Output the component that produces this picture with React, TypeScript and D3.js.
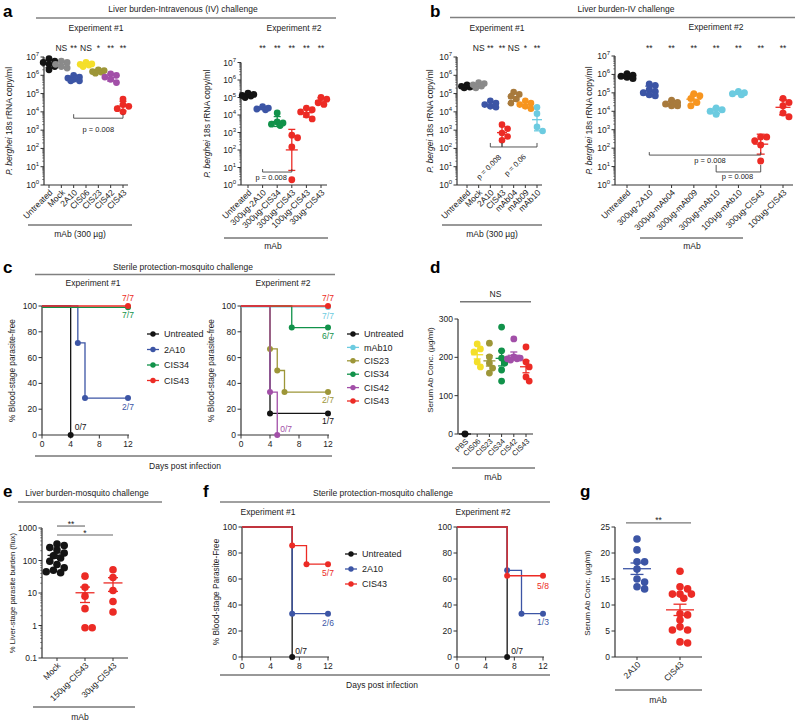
import React from "react";
import * as d3 from "d3";

const FONT = "'Liberation Sans', Arial, Helvetica, sans-serif";
const AX = "#333";

const BLACK = "#141414";
const GRAY = "#8a8a8a";
const BLUE = "#3c55a5";
const YELLOW = "#f4df2a";
const OLIVE = "#9d9638";
const GREEN = "#11924a";
const PURPLE = "#a24fa8";
const RED = "#ec2b25";
const BROWN = "#a87a3c";
const ORANGE = "#f7951f";
const LIGHTBLUE = "#6ccbe0";

// ---------- a: liver burden, IV challenge ----------
const aExp1Groups = ["Untreated", "Mock", "2A10", "CIS06", "CIS23", "CIS42", "CIS43"];
const aExp1Values = [
  [8e6, 6e6, 5e6, 4e6, 3e6, 2e6],
  [6e6, 5e6, 4e6, 3e6, 2.5e6],
  [1e6, 8e5, 7e5, 6e5, 5e5, 5e5],
  [5e6, 4.2e6, 3.6e6, 3e6, 4e6],
  [2e6, 1.8e6, 1.5e6, 1.3e6, 1.6e6],
  [1.2e6, 1e6, 8e5, 6e5, 4e5],
  [5e4, 2.5e4, 2e4, 1.5e4, 1e4],
];
const aExp1Sig = ["", "NS", "**", "NS", "*", "**", "**"];

const aExp2Groups = ["Untreated", "300µg-2A10", "300µg-CIS34", "300µg-CIS43", "100µg-CIS43", "30µg-CIS43"];
const aExp2Values = [
  [1.8e5, 1.5e5, 1.3e5, 1.2e5, 1e5],
  [3e4, 2.5e4, 2.2e4, 2e4],
  [1.3e4, 4e3, 3.5e3, 3e3, 2.5e3],
  [700, 500, 150, 2],
  [2.5e4, 2e4, 1.5e4, 1e4, 6e3],
  [1e5, 8e4, 5e4, 4e4],
];
const aExp2Sig = ["", "**", "**", "**", "**", "**"];

// ---------- b: liver burden, IV challenge ----------
const bExp1Groups = ["Untreated", "Mock", "2A10", "CIS43", "mAb04", "mAb09", "mAb10"];
const bExp1Values = [
  [3e5, 2.5e5, 2.2e5, 2e5, 2.5e5],
  [4e5, 3.5e5, 3e5, 2.5e5, 2e5],
  [4e4, 3e4, 2.5e4, 2e4, 1.8e4],
  [2e3, 1.2e3, 700, 450, 280],
  [1.2e5, 9e4, 7e4, 5e4, 3e4],
  [4e4, 3e4, 2.5e4, 2e4, 1.5e4],
  [1.8e4, 8e3, 1.5e3, 900],
];
const bExp1Sig = ["", "NS", "**", "**", "NS", "*", "**"];

const bExp2Groups = ["Untreated", "300µg-2A10", "300µg-mAb04", "300µg-mAb09", "300µg-mAb10", "100µg-mAb10", "300µg-CIS43", "100µg-CIS43"];
const bExp2Values = [
  [1.1e6, 9e5, 8e5, 7e5, 6e5],
  [3e5, 2.5e5, 1.5e5, 1.2e5, 1e5, 8e4, 7e4],
  [4e4, 3e4, 2.5e4, 2e4, 2e4],
  [9e4, 7e4, 5e4, 3e4, 2e4],
  [1.5e4, 1.2e4, 1e4, 7e3],
  [1.2e5, 1e5, 9e4, 8e4],
  [400, 400, 250, 150, 20],
  [5e4, 3e4, 2e4, 8e3, 5e3],
];
const bExp2Sig = ["", "**", "**", "**", "**", "**", "**", "**"];

const logTicks = [1, 10, 100, 1e3, 1e4, 1e5, 1e6, 1e7];

// ---------- c: sterile protection, mosquito challenge ----------
const cExp1Names = ["Untreated", "2A10", "CIS34", "CIS43"];
const cExp1Days = [[0, 4], [0, 5, 6, 12], [0, 12], [0, 12]];
const cExp1Free = [[100, 0], [100, 71.4, 28.6, 28.6], [99, 99], [100, 100]];
const cExp1Counts = ["0/7", "2/7", "7/7", "7/7"];

const cExp2Names = ["Untreated", "mAb10", "CIS23", "CIS34", "CIS42", "CIS43"];
const cExp2Days = [[0, 4, 12], [0, 12], [0, 4, 5, 6, 12], [0, 7, 12], [0, 4, 5], [0, 12]];
const cExp2Free = [[100, 16.7, 16.7], [99.3, 99.3], [100, 66.7, 50, 33.3, 33.3], [100, 83.3, 83.3], [100, 33.3, 0], [100, 100]];
const cExp2Counts = ["1/7", "7/7", "2/7", "6/7", "0/7", "7/7"];

const kmYTicks = [0, 20, 40, 60, 80, 100];
const kmXTicks = [0, 4, 8, 12];

// ---------- d: serum antibody ----------
const dGroups = ["PBS", "CIS06", "CIS23", "CIS34", "CIS42", "CIS43"];
const dValues = [
  [0],
  [235, 222, 214, 188, 175],
  [237, 201, 185, 172, 159],
  [279, 217, 198, 185, 167, 138],
  [248, 201, 198, 196, 196, 193],
  [227, 188, 175, 149, 138],
];
const dTicks = [0, 100, 200, 300];

// ---------- e: liver burden, mosquito challenge ----------
const eGroups = ["Mock", "150µg-CIS43", "30µg-CIS43"];
const eValues = [
  [320, 290, 250, 210, 170, 140, 120, 95, 75, 60, 50, 45, 42],
  [33, 15, 8, 3.3, 0.85, 0.85],
  [52, 30, 12, 5.5, 2.6],
];
const eTicks = [0.1, 1, 10, 100, 1000];

// ---------- f: sterile protection, mosquito challenge ----------
const fNames = ["Untreated", "2A10", "CIS43"];
const fExp1Days = [[0, 7], [0, 7, 12], [0, 7, 9, 12]];
const fExp1Free = [[100, 0], [100, 33.3, 33.3], [100, 85.7, 71.4, 71.4]];
const fExp1Counts = ["0/7", "2/6", "5/7"];
const fExp2Days = [[0, 7], [0, 7, 9, 12], [0, 7, 12]];
const fExp2Free = [[100, 0], [100, 66.7, 33.3, 33.3], [100, 62.5, 62.5]];
const fExp2Counts = ["0/7", "1/3", "5/8"];

// ---------- g: serum antibody ----------
const gGroups = ["2A10", "CIS43"];
const gValues = [
  [22.7, 20.6, 18.3, 18.3, 16.9, 15.0, 14.4, 13.1, 13.5],
  [16.5, 13.1, 13.5, 12.1, 12.1, 12.1, 11.3, 8.3, 8.1, 7.1, 5.2, 5.2, 5.8, 2.7, 2.9],
];
const gTicks = [0, 5, 10, 15, 20, 25];

// ------------------------------------------------------------

// simple beeswarm: offsets limited to maxK steps either side
function swarm(ys: number[], r: number, step: number, maxK: number) {
  const order = d3.range(ys.length).sort((a, b) => ys[a] - ys[b]);
  const placed: { x: number; y: number }[] = [];
  const out = ys.map(() => 0);
  order.forEach((i) => {
    let best = 0;
    let bestD = -1;
    for (let k = 0; k <= maxK * 2; k++) {
      const off = k === 0 ? 0 : (k % 2 ? 1 : -1) * Math.ceil(k / 2) * step;
      const dmin = placed.length ? d3.min(placed, (p) => Math.hypot(p.x - off, p.y - ys[i]))! : Infinity;
      if (dmin >= r * 1.55) { best = off; break; }
      if (dmin > bestD) { bestD = dmin; best = off; }
    }
    out[i] = best;
    placed.push({ x: best, y: ys[i] });
  });
  return out;
}

const sup = (v: number) => (
  <>
    10<tspan dy={-4} fontSize={6}>{Math.round(Math.log10(v))}</tspan>
  </>
);

type Bracket = {
  from: string; to: string; level: number; label: string;
  tick?: number; pad?: number; tdx?: number; tdy?: number; rot?: number; size?: number; color?: string; width?: number;
};

function DotPlot(p: any) {
  const { groups, values, colors } = p;
  const y: any = p.log
    ? d3.scaleLog().domain(p.domain).range(p.yRange)
    : d3.scaleLinear().domain(p.domain).range(p.yRange);
  const x = d3.scalePoint<string>().domain(groups).range(p.xRange);
  const base = p.yRange[0];
  const minor: number[] = [];
  if (p.log) {
    const lo = Math.round(Math.log10(p.domain[0]));
    const hi = Math.round(Math.log10(p.domain[1]));
    for (let e = lo; e < hi; e++) for (let m = 2; m < 10; m++) minor.push(m * Math.pow(10, e));
  }
  const brackets: Bracket[] = p.brackets || [];
  return (
    <g fontFamily={FONT}>
      <line x1={p.axisX} x2={p.axisX} y1={base} y2={p.yRange[1]} stroke={AX} strokeWidth={1.2} />
      <line x1={p.axisX} x2={p.xEnd} y1={base} y2={base} stroke={AX} strokeWidth={1.2} />
      {minor.map((t) => (
        <line key={"m" + t} x1={p.axisX - 1.8} x2={p.axisX} y1={y(t)} y2={y(t)} stroke={AX} strokeWidth={0.6} />
      ))}
      {p.ticks.map((t: number) => (
        <g key={t}>
          <line x1={p.axisX - 3.5} x2={p.axisX} y1={y(t)} y2={y(t)} stroke={AX} strokeWidth={1} />
          <text x={p.axisX - 5} y={y(t) + 3} textAnchor="end" fontSize={p.tickFont || 8.5} fill="#222">
            {p.log && p.sup ? sup(t) : String(t)}
          </text>
        </g>
      ))}
      {groups.map((g: string) => (
        <g key={"x" + g}>
          <line x1={x(g)} x2={x(g)} y1={base} y2={base + 3} stroke={AX} strokeWidth={1} />
          <text
            transform={`translate(${x(g)! + 2},${base + 6}) rotate(-45)`}
            textAnchor="end" dy="0.35em" fontSize={p.xFont || 8.5} fill="#222"
          >
            {g}
          </text>
        </g>
      ))}
      {groups.map((g: string, i: number) => {
        const vals: number[] = values[i];
        const ys = vals.map((v) => y(Math.max(v, p.domain[0])));
        const offs = swarm(ys, p.r, p.step ?? p.r * 0.85, p.maxK ?? 2);
        let m: number, lo: number, hi: number;
        if (p.err === "gsd") {
          // geometric mean +/- geometric SD
          const lv = vals.map((v) => Math.log10(v));
          const lm = d3.mean(lv)!;
          const ls = d3.deviation(lv) || 0;
          m = Math.pow(10, lm);
          lo = Math.pow(10, lm - ls);
          hi = Math.pow(10, lm + ls);
        } else {
          const mm = d3.mean(vals)!;
          const sd = d3.deviation(vals) || 0;
          const e = sd / Math.sqrt(vals.length);
          m = mm;
          lo = mm - e;
          hi = mm + e;
        }
        const cl = (v: number) => y(Math.max(v, p.domain[0]));
        const cx = x(g)!;
        return (
          <g key={"d" + g}>
            {vals.map((v, j) => (
              <circle key={j} cx={cx + offs[j]} cy={ys[j]} r={p.r} fill={colors[i]} />
            ))}
            <g stroke={colors[i]} strokeWidth={1.3}>
              <line x1={cx} x2={cx} y1={cl(lo)} y2={cl(hi)} />
              <line x1={cx - p.capW / 2} x2={cx + p.capW / 2} y1={cl(lo)} y2={cl(lo)} />
              <line x1={cx - p.capW / 2} x2={cx + p.capW / 2} y1={cl(hi)} y2={cl(hi)} />
              <line x1={cx - p.meanW / 2} x2={cx + p.meanW / 2} y1={cl(m)} y2={cl(m)} />
            </g>
          </g>
        );
      })}
      {p.sig &&
        groups.map((g: string, i: number) => (
          <text key={"s" + g} x={x(g)} y={p.sigY} textAnchor="middle" fontSize={8.5} fill="#222">
            {p.sig[i]}
          </text>
        ))}
      {brackets.map((b, i) => {
        const x1 = x(b.from)! - (b.pad ?? 0);
        const x2 = x(b.to)! + (b.pad ?? 0);
        const yy = y(b.level);
        const t = b.tick ?? 4;
        const cx = (x1 + x2) / 2 + (b.tdx ?? 0);
        const cy = yy + (b.tdy ?? 0);
        return (
          <g key={"b" + i}>
            <path d={`M${x1},${yy - t}V${yy}H${x2}V${yy - t}`} fill="none" stroke={b.color || "#444"} strokeWidth={b.width || 0.9} />
            <text transform={`translate(${cx},${cy}) rotate(${b.rot ?? 0})`} textAnchor="middle" dy="0.35em" fontSize={b.size ?? 7.5} fill="#222">
              {b.label}
            </text>
          </g>
        );
      })}
      <text transform={`translate(${p.yLabelX},${p.yLabelY ?? (p.yRange[0] + p.yRange[1]) / 2}) rotate(-90)`} textAnchor="middle" fontSize={p.yLabelFont || 8.5} fill="#222">
        {p.yLabel}
      </text>
    </g>
  );
}

function KM(p: any) {
  const x = d3.scaleLinear().domain([0, 12]).range(p.xRange);
  const y = d3.scaleLinear().domain([0, 100]).range(p.yRange);
  const line = d3
    .line<[number, number]>()
    .x((d) => x(d[0]))
    .y((d) => y(d[1]))
    .curve(d3.curveStepAfter);
  return (
    <g fontFamily={FONT}>
      <line x1={x(0)} x2={x(0)} y1={y(0)} y2={y(100)} stroke={AX} strokeWidth={1.2} />
      <line x1={x(0)} x2={x(12) + 1} y1={y(0)} y2={y(0)} stroke={AX} strokeWidth={1.2} />
      {kmYTicks.map((t) => (
        <g key={"y" + t}>
          <line x1={x(0) - 3.5} x2={x(0)} y1={y(t)} y2={y(t)} stroke={AX} strokeWidth={1} />
          <text x={x(0) - 5} y={y(t) + 3} textAnchor="end" fontSize={8.5} fill="#222">{t}</text>
        </g>
      ))}
      {kmXTicks.map((t) => (
        <g key={"x" + t}>
          <line x1={x(t)} x2={x(t)} y1={y(0)} y2={y(0) + 3.5} stroke={AX} strokeWidth={1} />
          <text x={x(t)} y={y(0) + 12} textAnchor="middle" fontSize={8.5} fill="#222">{t}</text>
        </g>
      ))}
      {p.names.map((n: string, i: number) => {
        const pts: [number, number][] = p.days[i].map((d: number, j: number) => [d, p.free[i][j]]);
        const last = pts[pts.length - 1];
        const lab = p.labels[i];
        return (
          <g key={n}>
            <path d={line(pts)!} fill="none" stroke={p.colors[i]} strokeWidth={1.3} />
            {pts.slice(1).map((d, j) => (
              <circle key={j} cx={x(d[0])} cy={y(d[1])} r={3} fill={p.colors[i]} />
            ))}
            <text x={x(last[0]) + lab[0]} y={y(last[1]) + lab[1]} textAnchor={lab[2] || "middle"} fontSize={8.5} fill={p.colors[i]}>
              {p.counts[i]}
            </text>
          </g>
        );
      })}
      {p.legend &&
        p.names.map((n: string, i: number) => {
          const ly = p.legend.y + i * p.legend.dy;
          return (
            <g key={"l" + n}>
              <line x1={p.legend.x} x2={p.legend.x + 12} y1={ly} y2={ly} stroke={p.colors[i]} strokeWidth={1.3} />
              <circle cx={p.legend.x + 6} cy={ly} r={2.7} fill={p.colors[i]} />
              <text x={p.legend.x + 17} y={ly + 3.2} fontSize={9} fill="#222">{n}</text>
            </g>
          );
        })}
      {p.yLabel && (
        <text transform={`translate(${p.yLabelX},${(p.yRange[0] + p.yRange[1]) / 2}) rotate(-90)`} textAnchor="middle" fontSize={8.3} fill="#222">
          {p.yLabel}
        </text>
      )}
    </g>
  );
}

const Txt = (props: any) => (
  <text fontFamily={FONT} fontSize={8.5} fill="#222" textAnchor="middle" {...props} />
);
const Letter = ({ x, y, c }: any) => (
  <text x={x} y={y} fontFamily={FONT} fontSize={17} fontWeight="bold" fill="#000">{c}</text>
);
const HLine = ({ x1, x2, y, dark }: any) => (
  <line x1={x1} x2={x2} y1={y} y2={y} stroke={dark ? "#333" : "#808080"} strokeWidth={dark ? 1 : 1.3} />
);

const berghei = (name: string) => (
  <>
    <tspan fontStyle="italic">P. {name}</tspan> 18s rRNA copy/ml
  </>
);

export default function App() {
  return (
    <svg width={800} height={724} style={{ position: "absolute", left: 0, top: 0, background: "#fff" }}>
      <rect width={800} height={724} fill="#fff" />

      {/* panel a */}
      <Letter x={3} y={17} c="a" />
      <Txt x={183} y={12}>Liver burden-Intravenous (IV) challenge</Txt>
      <HLine x1={36} x2={336} y={18} />
      <Txt x={96} y={31}>Experiment #1</Txt>
      <Txt x={294} y={31}>Experiment #2</Txt>
      <DotPlot
        groups={aExp1Groups} values={aExp1Values}
        colors={[BLACK, GRAY, BLUE, YELLOW, OLIVE, PURPLE, RED]}
        log sup domain={[1, 1e7]} ticks={logTicks}
        axisX={44} xRange={[49, 123]} xEnd={128} yRange={[185, 57]}
        r={3.4} meanW={12} capW={7} err="gsd" maxK={2}
        sig={aExp1Sig} sigY={51}
        brackets={[{ from: "2A10", to: "CIS43", level: 4500, label: "p = 0.008", tdy: 11 }]}
        yLabel={berghei("berghei")} yLabelX={12}
      />
      <DotPlot
        groups={aExp2Groups} values={aExp2Values}
        colors={[BLACK, BLUE, GREEN, RED, RED, RED]}
        log sup domain={[1, 1e7]} ticks={logTicks}
        axisX={241} xRange={[248, 321]} xEnd={327} yRange={[185, 62.5]}
        r={3.4} meanW={12} capW={7} err="gsd" maxK={2}
        sig={aExp2Sig} sigY={51}
        brackets={[{ from: "300µg-2A10", to: "300µg-CIS43", level: 5.5, label: "p = 0.008", tdx: -6, tdy: 5, tick: 3 }]}
        yLabel={berghei("berghei")} yLabelX={210}
      />
      <HLine x1={28} x2={132} y={225} dark />
      <Txt x={80} y={237}>mAb (300 µg)</Txt>
      <HLine x1={224} x2={328} y={238} dark />
      <Txt x={273} y={249}>mAb</Txt>

      {/* panel b */}
      <Letter x={430} y={17} c="b" />
      <Txt x={626} y={12}>Liver burden-IV challenge</Txt>
      <HLine x1={450} x2={795} y={17.5} />
      <Txt x={497} y={31}>Experiment #1</Txt>
      <Txt x={716} y={30}>Experiment #2</Txt>
      <DotPlot
        groups={bExp1Groups} values={bExp1Values}
        colors={[BLACK, GRAY, BLUE, RED, BROWN, ORANGE, LIGHTBLUE]}
        log sup domain={[1, 1e7]} ticks={logTicks}
        axisX={457} xRange={[467, 537]} xEnd={542} yRange={[185, 57]}
        r={3.3} meanW={10} capW={6} err="gsd" maxK={2}
        sig={bExp1Sig} sigY={51}
        brackets={[
          { from: "2A10", to: "CIS43", level: 120, label: "p = 0.008", rot: -45, tdx: -7.5, tdy: 20 },
          { from: "CIS43", to: "mAb10", level: 120, label: "p = 0.06", rot: -45, tdx: -4.5, tdy: 18 },
        ]}
        yLabel={berghei("bergei")} yLabelX={433}
      />
      <DotPlot
        groups={bExp2Groups} values={bExp2Values}
        colors={[BLACK, BLUE, BROWN, ORANGE, LIGHTBLUE, LIGHTBLUE, RED, RED]}
        log sup domain={[1, 1e7]} ticks={logTicks}
        axisX={615} xRange={[627, 783]} xEnd={793} yRange={[185, 56]}
        r={3.5} meanW={15} capW={8} err="gsd" maxK={2}
        sig={bExp2Sig} sigY={51}
        brackets={[
          { from: "300µg-2A10", to: "300µg-CIS43", level: 42, label: "p = 0.008", tdx: 5, tdy: 5, tick: 3 },
          { from: "300µg-mAb10", to: "300µg-CIS43", level: 5.1, label: "p = 0.008", tdx: -1, tdy: 4.5, tick: 7 },
        ]}
        yLabel={berghei("berghei")} yLabelX={592}
      />
      <HLine x1={442} x2={542} y={225} dark />
      <Txt x={492} y={237}>mAb (300 µg)</Txt>
      <HLine x1={640} x2={743} y={238} dark />
      <Txt x={692} y={249}>mAb</Txt>

      {/* panel c */}
      <Letter x={3} y={273} c="c" />
      <Txt x={183} y={270}>Sterile protection-mosquito challenge</Txt>
      <HLine x1={35} x2={335} y={274.5} />
      <Txt x={93} y={286}>Experiment #1</Txt>
      <Txt x={283} y={286}>Experiment #2</Txt>
      <KM
        names={cExp1Names} days={cExp1Days} free={cExp1Free} counts={cExp1Counts}
        colors={[BLACK, BLUE, GREEN, RED]}
        labels={[[4, -5, "start"], [0, 12], [0, 11], [0, -5]]}
        xRange={[42, 128]} yRange={[435, 306]}
        legend={{ x: 147, y: 334, dy: 15.5 }}
        yLabel="% Blood-stage parasite-free" yLabelX={15}
      />
      <KM
        names={cExp2Names} days={cExp2Days} free={cExp2Free} counts={cExp2Counts}
        colors={[BLACK, LIGHTBLUE, OLIVE, GREEN, PURPLE, RED]}
        labels={[[0, 11], [0, 12], [0, 11], [0, 11], [3, -3, "start"], [0, -5]]}
        xRange={[241, 328]} yRange={[435, 306]}
        legend={{ x: 347, y: 334, dy: 13.4 }}
        yLabel="% Blood-stage parasite-free" yLabelX={214}
      />
      <HLine x1={35} x2={332} y={456} dark />
      <Txt x={185} y={469}>Days post infection</Txt>

      {/* panel d */}
      <Letter x={430} y={273} c="d" />
      <DotPlot
        groups={dGroups} values={dValues}
        colors={[BLACK, YELLOW, OLIVE, GREEN, PURPLE, RED]}
        domain={[0, 300]} ticks={dTicks}
        axisX={458} xRange={[465, 526]} xEnd={533} yRange={[434, 319]}
        r={3.4} meanW={12} capW={7} err="sem" xFont={7.5} maxK={2} step={3.2}
        brackets={[{ from: "PBS", to: "CIS43", level: 345, label: "NS", tick: 0, pad: 5, tdy: -8, size: 8.5, color: "#777", width: 1.3 }]}
        yLabel="Serum Ab Conc. (µg/ml)" yLabelX={433} yLabelY={370} yLabelFont={8}
      />
      <HLine x1={452} x2={535} y={468} dark />
      <Txt x={493} y={480}>mAb</Txt>

      {/* panel e */}
      <Letter x={3} y={497} c="e" />
      <Txt x={87} y={496}>Liver burden-mosquito challenge</Txt>
      <HLine x1={18} x2={162} y={502} />
      <DotPlot
        groups={eGroups} values={eValues}
        colors={[BLACK, RED, RED]}
        log domain={[0.1, 1000]} ticks={eTicks}
        axisX={42} xRange={[57, 113]} xEnd={128} yRange={[658, 528]}
        r={3.8} meanW={19} capW={10} err="sem" maxK={3} step={3.6}
        brackets={[
          { from: "Mock", to: "150µg-CIS43", level: 1150, label: "**", tick: 0, tdy: -2, size: 8.5, color: "#666", width: 1.1 },
          { from: "Mock", to: "30µg-CIS43", level: 610, label: "*", tick: 0, tdy: -2, size: 8.5, color: "#666", width: 1.1 },
        ]}
        yLabel="% Liver-stage parasite burden (flux)" yLabelX={15} yLabelFont={7.6}
      />
      <HLine x1={33} x2={135} y={707} dark />
      <Txt x={80} y={720}>mAb</Txt>

      {/* panel f */}
      <Letter x={203} y={497} c="f" />
      <Txt x={383} y={496}>Sterile protection-mosquito challenge</Txt>
      <HLine x1={220} x2={550} y={502} />
      <Txt x={268} y={515}>Experiment #1</Txt>
      <Txt x={483} y={515}>Experiment #2</Txt>
      <KM
        names={fNames} days={fExp1Days} free={fExp1Free} counts={fExp1Counts}
        colors={[BLACK, BLUE, RED]}
        labels={[[3, -3, "start"], [0, 12], [0, 12]]}
        xRange={[242, 328]} yRange={[657, 527]}
        legend={{ x: 345, y: 554, dy: 15 }}
        yLabel="% Blood-stage Parasite-Free" yLabelX={219}
      />
      <KM
        names={fNames} days={fExp2Days} free={fExp2Free} counts={fExp2Counts}
        colors={[BLACK, BLUE, RED]}
        labels={[[4, -3, "start"], [0, 11], [0, 13]]}
        xRange={[457, 543]} yRange={[657, 527]}
      />
      <HLine x1={220} x2={550} y={675} dark />
      <Txt x={382} y={688}>Days post infection</Txt>

      {/* panel g */}
      <Letter x={580} y={497} c="g" />
      <DotPlot
        groups={gGroups} values={gValues}
        colors={[BLUE, RED]}
        domain={[0, 25]} ticks={gTicks}
        axisX={615} xRange={[637, 680]} xEnd={702} yRange={[657, 527]}
        r={3.8} meanW={28} capW={13} err="sem" maxK={3} step={3.8}
        brackets={[{ from: "2A10", to: "CIS43", level: 25.8, label: "**", tick: 0, pad: 11, tdy: -3, size: 8.5, color: "#777", width: 1.3 }]}
        yLabel="Serum Ab Conc. (µg/ml)" yLabelX={590} yLabelY={593} yLabelFont={8}
      />
      <HLine x1={615} x2={702} y={690} dark />
      <Txt x={658} y={703}>mAb</Txt>
    </svg>
  );
}
